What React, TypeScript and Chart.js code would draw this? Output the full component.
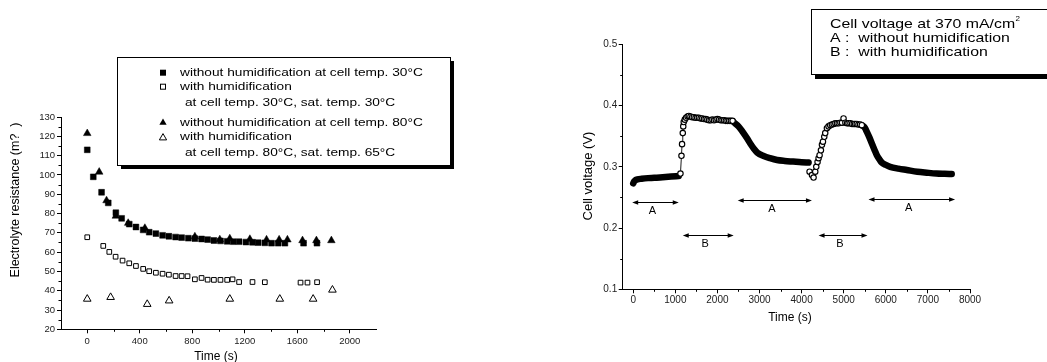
import React, { useEffect, useRef } from "react";
import { Chart, registerables } from "chart.js";
Chart.register(...registerables);

const FONT = "'Liberation Sans', Arial, Helvetica, sans-serif";

// ---------------- Left panel: electrolyte resistance vs time ----------------
const dry30Time = [0, 46, 109, 160, 218, 262, 320, 371, 426, 472, 523, 574, 622, 673, 719, 770, 820, 871, 917, 965, 1015, 1066, 1112, 1157, 1209, 1259, 1302, 1353, 1404, 1455, 1506, 1648, 1750];
const dry30Res = [113, 99, 91, 85.5, 80.4, 77.5, 74.5, 73, 71.5, 70.3, 69.6, 68.7, 68.2, 67.8, 67.5, 67.2, 67, 66.8, 66.5, 66, 65.8, 65.6, 65.4, 65.4, 65.2, 65.1, 64.9, 64.8, 64.6, 64.6, 64.6, 64.6, 64.6];

const hum30Time = [0, 122, 168, 216, 269, 320, 371, 426, 472, 523, 574, 622, 673, 719, 764, 820, 871, 917, 965, 1015, 1066, 1107, 1157, 1259, 1353, 1625, 1678, 1751];
const hum30Res = [67.7, 63.2, 60.1, 57.6, 55.6, 54.2, 52.8, 51.3, 50.1, 49.3, 48.8, 48.3, 47.6, 47.6, 47.5, 45.9, 46.6, 45.7, 45.6, 45.6, 45.6, 45.9, 44.5, 44.5, 44.4, 44.2, 44.2, 44.4];

const dry80Time = [0, 91, 147, 218, 312, 439, 820, 1010, 1086, 1239, 1366, 1462, 1525, 1640, 1746, 1860];
const dry80Res = [121.5, 101.5, 86.7, 78.7, 75, 72.4, 68, 66.5, 67, 66.7, 66.4, 66.4, 66.4, 66, 66, 66];

const hum80Time = [0, 178, 457, 624, 1086, 1467, 1721, 1868];
const hum80Res = [35.7, 36.6, 33, 34.8, 35.7, 35.7, 35.7, 40.4];

const leftXTicks = [0, 400, 800, 1200, 1600, 2000];
const leftXMinor = [200, 600, 1000, 1400, 1800];
const leftYMinor = [25, 35, 45, 55, 65, 75, 85, 95, 105, 115, 125];

// ---------------- Right panel: cell voltage vs time ----------------
const a1Time = [0, 20, 50, 100, 200, 350, 500, 700, 900, 1080];
const a1Volt = [0.273, 0.276, 0.278, 0.2795, 0.2805, 0.2815, 0.282, 0.283, 0.284, 0.285];

const b1Time = [1122, 1146, 1160, 1177, 1188, 1200, 1225, 1255, 1290, 1320, 1360, 1400, 1440, 1480, 1520, 1560, 1600, 1640, 1680, 1720, 1760, 1800, 1840, 1880, 1920, 1960, 2000, 2040, 2080, 2120, 2160, 2200, 2240, 2280, 2320, 2360];
const b1Volt = [0.289, 0.318, 0.337, 0.355, 0.366, 0.373, 0.377, 0.38, 0.382, 0.383, 0.382, 0.381, 0.381, 0.38, 0.38, 0.38, 0.379, 0.379, 0.378, 0.378, 0.377, 0.376, 0.376, 0.377, 0.376, 0.377, 0.378, 0.377, 0.376, 0.376, 0.376, 0.375, 0.375, 0.375, 0.375, 0.375];

const a2Time = [2370, 2420, 2500, 2600, 2704, 2800, 2862, 2950, 3099, 3250, 3416, 3600, 3800, 4000, 4166];
const a2Volt = [0.374, 0.371, 0.366, 0.357, 0.3465, 0.336, 0.33, 0.323, 0.3176, 0.314, 0.311, 0.3095, 0.3085, 0.3075, 0.307];

const b2Time = [4189, 4246, 4284, 4324, 4348, 4379, 4403, 4427, 4459, 4483, 4507, 4538, 4561, 4601, 4640, 4680, 4720, 4760, 4800, 4840, 4880, 4920, 4960, 4996, 5040, 5080, 5114, 5160, 5200, 5240, 5273, 5310, 5350, 5390, 5430];
const b2Volt = [0.292, 0.2866, 0.2825, 0.292, 0.3, 0.308, 0.314, 0.319, 0.327, 0.336, 0.341, 0.349, 0.355, 0.363, 0.366, 0.368, 0.369, 0.37, 0.371, 0.371, 0.371, 0.372, 0.372, 0.379, 0.372, 0.371, 0.371, 0.371, 0.37, 0.37, 0.37, 0.37, 0.369, 0.369, 0.368];

const a3Time = [5430, 5500, 5550, 5610, 5669, 5730, 5787, 5850, 5906, 6000, 6103, 6300, 6499, 6750, 6973, 7200, 7400, 7566];
const a3Volt = [0.368, 0.364, 0.357, 0.348, 0.338, 0.328, 0.319, 0.312, 0.3067, 0.303, 0.3, 0.297, 0.2948, 0.292, 0.2904, 0.289, 0.2885, 0.2882];

const arrowFrom = [-24, 1177, 2482, 4403, 5589];
const arrowTo = [1082, 2387, 4245, 5565, 7645];
const arrowVolt = [0.242, 0.1887, 0.2458, 0.1887, 0.2474];
const arrowLabel = ["A", "B", "A", "B", "A"];

const rightXTicks = [0, 1000, 2000, 3000, 4000, 5000, 6000, 7000, 8000];
const rightXMinor = [500, 1500, 2500, 3500, 4500, 5500, 6500, 7500];
const rightYMinor = [0.15, 0.25, 0.35, 0.45];

const pts = (xs: number[], ys: number[]) => xs.map((x, i) => ({ x, y: ys[i] }));

function drawMinor(ctx: CanvasRenderingContext2D, chart: any, xMinor: number[], yMinor: number[]) {
  const xs = chart.scales.x;
  const ys = chart.scales.y;
  ctx.save();
  ctx.strokeStyle = "#000";
  ctx.lineWidth = 1;
  xMinor.forEach((v) => {
    const px = Math.round(xs.getPixelForValue(v)) + 0.5;
    ctx.beginPath();
    ctx.moveTo(px, ys.bottom);
    ctx.lineTo(px, ys.bottom + 2.5);
    ctx.stroke();
  });
  yMinor.forEach((v) => {
    const py = Math.round(ys.getPixelForValue(v)) + 0.5;
    ctx.beginPath();
    ctx.moveTo(xs.left, py);
    ctx.lineTo(xs.left - 2.5, py);
    ctx.stroke();
  });
  ctx.restore();
}

// draw text stretched horizontally (the reference lettering is wider than Arial)
function wideText(ctx: CanvasRenderingContext2D, text: string, x: number, y: number, sx: number) {
  ctx.save();
  ctx.translate(x, y);
  ctx.scale(sx, 1);
  ctx.fillText(text, 0, 0);
  ctx.restore();
  return ctx.measureText(text).width * sx;
}

function tri(ctx: CanvasRenderingContext2D, cx: number, cy: number, r: number, filled: boolean) {
  ctx.beginPath();
  ctx.moveTo(cx, cy - r);
  ctx.lineTo(cx - r * 0.866, cy + r / 2);
  ctx.lineTo(cx + r * 0.866, cy + r / 2);
  ctx.closePath();
  if (filled) {
    ctx.fillStyle = "#000";
    ctx.fill();
  } else {
    ctx.fillStyle = "#fff";
    ctx.fill();
    ctx.strokeStyle = "#000";
    ctx.lineWidth = 1;
    ctx.stroke();
  }
}

const leftDecor = {
  id: "leftDecor",
  afterDraw(chart: any) {
    const ctx: CanvasRenderingContext2D = chart.ctx;
    drawMinor(ctx, chart, leftXMinor, leftYMinor);
    ctx.save();
    ctx.fillStyle = "#000";
    ctx.textAlign = "center";
    ctx.textBaseline = "middle";
    ctx.font = `12px ${FONT}`;
    ctx.fillText("Time (s)", 216, 357);
    ctx.save();
    ctx.translate(16, 200);
    ctx.rotate(-Math.PI / 2);
    ctx.font = `12.5px ${FONT}`;
    ctx.fillText("Electrolyte resistance (m?  )", 0, 0);
    ctx.restore();

    // legend box
    const bx = 117, by = 57, bw = 333, bh = 108;
    ctx.fillStyle = "#000";
    ctx.fillRect(bx + 4, by + 4, bw, bh);
    ctx.fillStyle = "#fff";
    ctx.fillRect(bx, by, bw, bh);
    ctx.strokeStyle = "#000";
    ctx.lineWidth = 1;
    ctx.strokeRect(bx + 0.5, by + 0.5, bw, bh);

    const mx = 163;
    ctx.fillStyle = "#000";
    ctx.fillRect(mx - 3, 72.7 - 3, 6, 6);
    ctx.fillStyle = "#fff";
    ctx.fillRect(mx - 2.5, 86.7 - 2.5, 5, 5);
    ctx.strokeRect(mx - 2.5, 86.7 - 2.5, 5, 5);
    tri(ctx, mx, 122.7, 4.2, true);
    tri(ctx, mx, 137.8, 4.2, false);

    ctx.fillStyle = "#000";
    ctx.textAlign = "left";
    ctx.font = `11.5px ${FONT}`;
    const s = 1.19;
    wideText(ctx, "without humidification at cell temp. 30°C", 180, 72.7, s);
    wideText(ctx, "with humidification", 180, 86.7, s);
    wideText(ctx, "at cell temp. 30°C, sat. temp. 30°C", 185, 102.7, s);
    wideText(ctx, "without humidification at cell temp. 80°C", 180, 122.7, s);
    wideText(ctx, "with humidification", 180, 137.3, s);
    wideText(ctx, "at cell temp. 80°C, sat. temp. 65°C", 185, 153.3, s);
    ctx.restore();
  },
};

const rightDecor = {
  id: "rightDecor",
  afterDraw(chart: any) {
    const ctx: CanvasRenderingContext2D = chart.ctx;
    drawMinor(ctx, chart, rightXMinor, rightYMinor);
    const xs = chart.scales.x;
    const ys = chart.scales.y;
    ctx.save();
    // arrows
    ctx.strokeStyle = "#000";
    ctx.fillStyle = "#000";
    ctx.lineWidth = 1;
    arrowFrom.forEach((f, i) => {
      const x1 = xs.getPixelForValue(f);
      const x2 = xs.getPixelForValue(arrowTo[i]);
      const y = Math.round(ys.getPixelForValue(arrowVolt[i])) + 0.5;
      ctx.beginPath();
      ctx.moveTo(x1 + 3, y);
      ctx.lineTo(x2 - 3, y);
      ctx.stroke();
      ctx.beginPath();
      ctx.moveTo(x1, y);
      ctx.lineTo(x1 + 6, y - 2.2);
      ctx.lineTo(x1 + 6, y + 2.2);
      ctx.closePath();
      ctx.fill();
      ctx.beginPath();
      ctx.moveTo(x2, y);
      ctx.lineTo(x2 - 6, y - 2.2);
      ctx.lineTo(x2 - 6, y + 2.2);
      ctx.closePath();
      ctx.fill();
      ctx.font = `11px ${FONT}`;
      ctx.textAlign = "center";
      ctx.textBaseline = "middle";
      ctx.fillText(arrowLabel[i], (x1 + x2) / 2 - 3, y + 8.5);
    });

    // axis titles
    ctx.font = `12px ${FONT}`;
    ctx.textAlign = "center";
    ctx.textBaseline = "middle";
    ctx.fillText("Time (s)", 250, 318);
    ctx.save();
    ctx.translate(48, 176);
    ctx.rotate(-Math.PI / 2);
    ctx.font = `13px ${FONT}`;
    ctx.fillText("Cell voltage (V)", 0, 0);
    ctx.restore();

    // legend box
    const bx = 271, by = 9, bw = 240, bh = 65;
    ctx.fillStyle = "#000";
    ctx.fillRect(bx + 4, by + 5, bw, bh);
    ctx.fillStyle = "#fff";
    ctx.fillRect(bx, by, bw, bh);
    ctx.strokeStyle = "#000";
    ctx.strokeRect(bx + 0.5, by + 0.5, bw, bh);
    ctx.fillStyle = "#000";
    ctx.textAlign = "left";
    ctx.font = `13px ${FONT}`;
    const s = 1.22;
    const w = wideText(ctx, "Cell voltage at 370 mA/cm", 290, 24, s);
    ctx.font = `8px ${FONT}`;
    ctx.fillText("2", 290 + w + 0.5, 19);
    ctx.font = `13px ${FONT}`;
    wideText(ctx, "A :  without humidification", 290, 38, s);
    wideText(ctx, "B :  with humidification", 290, 52, s);
    ctx.restore();
  },
};

function axisCommon(size: number, pad: number) {
  return {
    grid: { drawOnChartArea: false, drawTicks: true, tickLength: 4, color: "#000", lineWidth: 1 },
    border: { display: true, color: "#000", width: 1 },
    ticks: { font: { family: FONT, size }, color: "#222", padding: pad, autoSkip: false, maxRotation: 0 },
  };
}

export default function App() {
  const leftRef = useRef<HTMLCanvasElement>(null);
  const rightRef = useRef<HTMLCanvasElement>(null);

  useEffect(() => {
    const lx = axisCommon(9.5, 2);
    const ly = axisCommon(9.5, 2);
    const left = new Chart(leftRef.current!, {
      type: "scatter",
      data: {
        datasets: [
          { data: pts(dry30Time, dry30Res), pointStyle: "rect", pointRadius: 4.1, pointBackgroundColor: "#000", pointBorderColor: "#000", pointBorderWidth: 0.5, showLine: false },
          { data: pts(dry80Time, dry80Res), pointStyle: "triangle", pointRadius: 4.4, pointBackgroundColor: "#000", pointBorderColor: "#000", pointBorderWidth: 0.5, showLine: false },
          { data: pts(hum30Time, hum30Res), pointStyle: "rect", pointRadius: 3.3, pointBackgroundColor: "#fff", pointBorderColor: "#000", pointBorderWidth: 1, showLine: false },
          { data: pts(hum80Time, hum80Res), pointStyle: "triangle", pointRadius: 4.4, pointBackgroundColor: "#fff", pointBorderColor: "#000", pointBorderWidth: 1, showLine: false },
        ],
      },
      options: {
        responsive: false,
        animation: false,
        events: [],
        layout: { padding: { left: 0, top: 117, right: 164, bottom: 0 } },
        plugins: { legend: { display: false }, tooltip: { enabled: false } },
        scales: {
          x: {
            type: "linear",
            min: -200,
            max: 2200,
            ...lx,
            ticks: { ...lx.ticks, callback: (v: any) => String(v) },
            afterBuildTicks: (s: any) => { s.ticks = leftXTicks.map((v) => ({ value: v })); },
            afterFit: (s: any) => { s.height = 32.7; },
          },
          y: {
            type: "linear",
            min: 20,
            max: 130,
            ...ly,
            ticks: { ...ly.ticks, stepSize: 10, callback: (v: any) => String(v) },
            afterFit: (s: any) => { s.width = 61; },
          },
        },
      } as any,
      plugins: [leftDecor],
    });

    const rx = axisCommon(10, 1);
    const ry = axisCommon(10, 1.5);
    const band = { showLine: true, borderColor: "#000", borderWidth: 6.5, pointRadius: 0, borderCapStyle: "round", borderJoinStyle: "round", cubicInterpolationMode: "monotone" };
    const circ = { showLine: true, borderColor: "#000", borderWidth: 0.9, pointRadius: 2.7, pointBackgroundColor: "#fff", pointBorderColor: "#000", pointBorderWidth: 1.15 };
    const right = new Chart(rightRef.current!, {
      type: "scatter",
      data: {
        datasets: [
          { data: pts(b1Time, b1Volt), ...circ },
          { data: pts(b2Time, b2Volt), ...circ },
          { data: pts(a1Time, a1Volt), ...band },
          { data: pts(a2Time, a2Volt), ...band },
          { data: pts(a3Time, a3Volt), ...band },
        ],
      },
      options: {
        responsive: false,
        animation: false,
        events: [],
        layout: { padding: { left: 0, top: 44.3, right: 77, bottom: 0 } },
        plugins: { legend: { display: false }, tooltip: { enabled: false } },
        scales: {
          x: {
            type: "linear",
            min: -250,
            max: 8000,
            ...rx,
            ticks: { ...rx.ticks, callback: (v: any) => String(v) },
            afterBuildTicks: (s: any) => { s.ticks = rightXTicks.map((v) => ({ value: v })); },
            afterFit: (s: any) => { s.height = 72.7; },
          },
          y: {
            type: "linear",
            min: 0.1,
            max: 0.5,
            ...ry,
            ticks: { ...ry.ticks, stepSize: 0.1, callback: (v: any) => Number(v).toFixed(1) },
            afterFit: (s: any) => { s.width = 82.7; },
          },
        },
      } as any,
      plugins: [rightDecor],
    });

    return () => {
      left.destroy();
      right.destroy();
    };
  }, []);

  return (
    <div style={{ position: "absolute", left: 0, top: 0, width: 1047, height: 362, overflow: "hidden", background: "#fff" }}>
      <canvas ref={leftRef} width={540} height={362} style={{ position: "absolute", left: 0, top: 0, width: 540, height: 362 }} />
      <canvas ref={rightRef} width={507} height={362} style={{ position: "absolute", left: 540, top: 0, width: 507, height: 362 }} />
    </div>
  );
}
